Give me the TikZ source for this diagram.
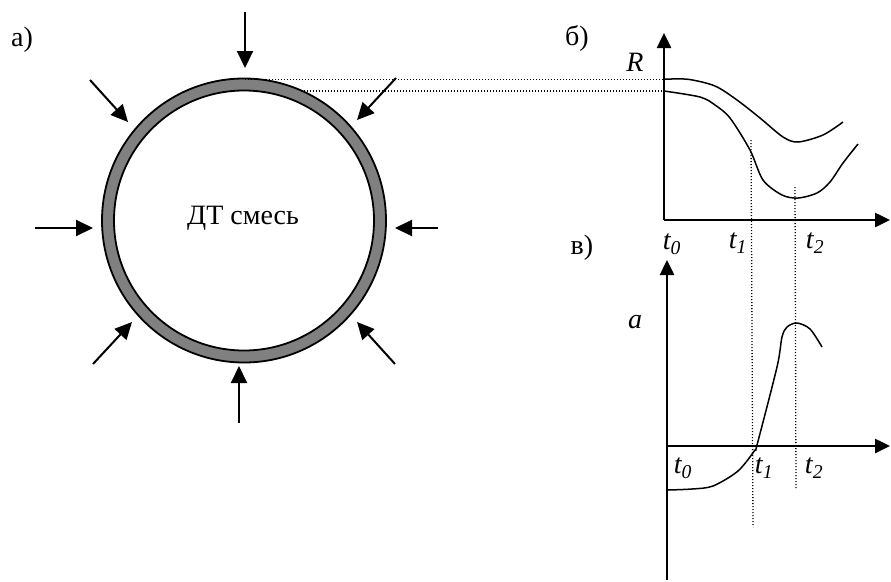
\documentclass[tikz,border=0pt]{standalone}
\usepackage{fontspec}
\setmainfont{Liberation Serif}
\usetikzlibrary{arrows.meta}
\begin{document}
\begin{tikzpicture}[x=1pt,y=-1pt,
  push/.style={line width=2pt,-{Triangle[length=17pt,width=16pt]}},
  axis/.style={line width=2.5pt,-{Triangle[length=15pt,width=14pt]}},
  curve/.style={line width=1.5pt,line join=round},
  guide/.style={line width=1.3pt,dash pattern=on 1.2pt off 1.8pt},
  lbl/.style={font=\fontsize{28}{32}\selectfont, inner sep=0pt},
  ilbl/.style={font=\fontsize{28}{32}\selectfont\itshape, inner sep=0pt}]
\useasboundingbox (0,0) rectangle (891,581);
% ring
\coordinate (c) at (244,220.5);
\fill[black!50, even odd rule] (c) circle[radius=142pt] (c) circle[radius=130pt];
\draw[line width=1.8pt] (c) circle[radius=142pt];
\draw[line width=1.8pt] (c) circle[radius=130pt];
\node[lbl] (mix) at (243,218) {ДТ смесь};
% pressure arrows
\coordinate (a1s) at (245,12);  \coordinate (a1e) at (245,68);
\coordinate (a2s) at (90,80);   \coordinate (a2e) at (128,122);
\coordinate (a3s) at (35,228);  \coordinate (a3e) at (93,228);
\coordinate (a4s) at (93,364);  \coordinate (a4e) at (132,322);
\coordinate (a5s) at (239,423); \coordinate (a5e) at (239,366);
\coordinate (a6s) at (395,364); \coordinate (a6e) at (357,322);
\coordinate (a7s) at (438,228); \coordinate (a7e) at (395,228);
\coordinate (a8s) at (396,78);  \coordinate (a8e) at (357,120);
\foreach \i in {1,...,8} \draw[push] (a\i s) -- (a\i e);
% labels
\node[lbl] (la) at (22,40) {а)};
\node[lbl] (lb) at (577,38) {б)};
\node[lbl] (lv) at (582,248) {в)};
% graph b
\coordinate (o1) at (664,220);
\coordinate (y1) at (664,33);
\coordinate (x1) at (890,220);
\coordinate (r1) at (664,79.3);
\coordinate (r2) at (664,91);
\coordinate (g1) at (245,79.3);
\coordinate (g2) at (301,91);
\draw[guide] (g1) -- (r1);
\draw[guide] (g2) -- (r2);
\draw[curve] plot[smooth,tension=0.5] coordinates {(664,79.3) (688,79.3) (715,86) (737,100) (760,118) (783,137) (798,142) (823,135) (843,122)};
\draw[curve] plot[smooth,tension=0.5] coordinates {(664,91) (700,97) (715,105) (730,118) (750,150) (763,180) (782,195) (798,198) (817,193) (830,182) (843,163) (858,144)};
\draw[axis] (o1) -- (y1);
\draw[axis] (o1) -- (x1);
\node[ilbl] (R) at (635,62) {R};
\node[ilbl] (t0a) at (672,244) {t\textsubscript{0}};
\node[ilbl] (t1a) at (738,243) {t\textsubscript{1}};
\node[ilbl] (t2a) at (815,243) {t\textsubscript{2}};
% graph v
\coordinate (o2) at (667,446);
\coordinate (y2t) at (667,260);
\coordinate (y2b) at (667,580);
\coordinate (x2) at (890,446);
\draw[curve] plot[smooth,tension=0.5] coordinates {(668,490) (692,489) (713,486) (738,471) (755,450) (757,445) (777,367) (782,337) (787,327) (797,323) (810,329) (822,347)};
\draw[axis] (y2b) -- (y2t);
\draw[axis] (o2) -- (x2);
\node[ilbl] (aa) at (635,322) {a};
\node[ilbl] (t0b) at (683,468) {t\textsubscript{0}};
\node[ilbl] (t1b) at (764,468) {t\textsubscript{1}};
\node[ilbl] (t2b) at (814,468) {t\textsubscript{2}};
% vertical guides
\coordinate (v1s) at (751,140); \coordinate (v1e) at (753,527);
\coordinate (v2s) at (795,187); \coordinate (v2e) at (796,488);
\draw[guide] (v1s) -- (v1e);
\draw[guide] (v2s) -- (v2e);
\end{tikzpicture}
\end{document}
